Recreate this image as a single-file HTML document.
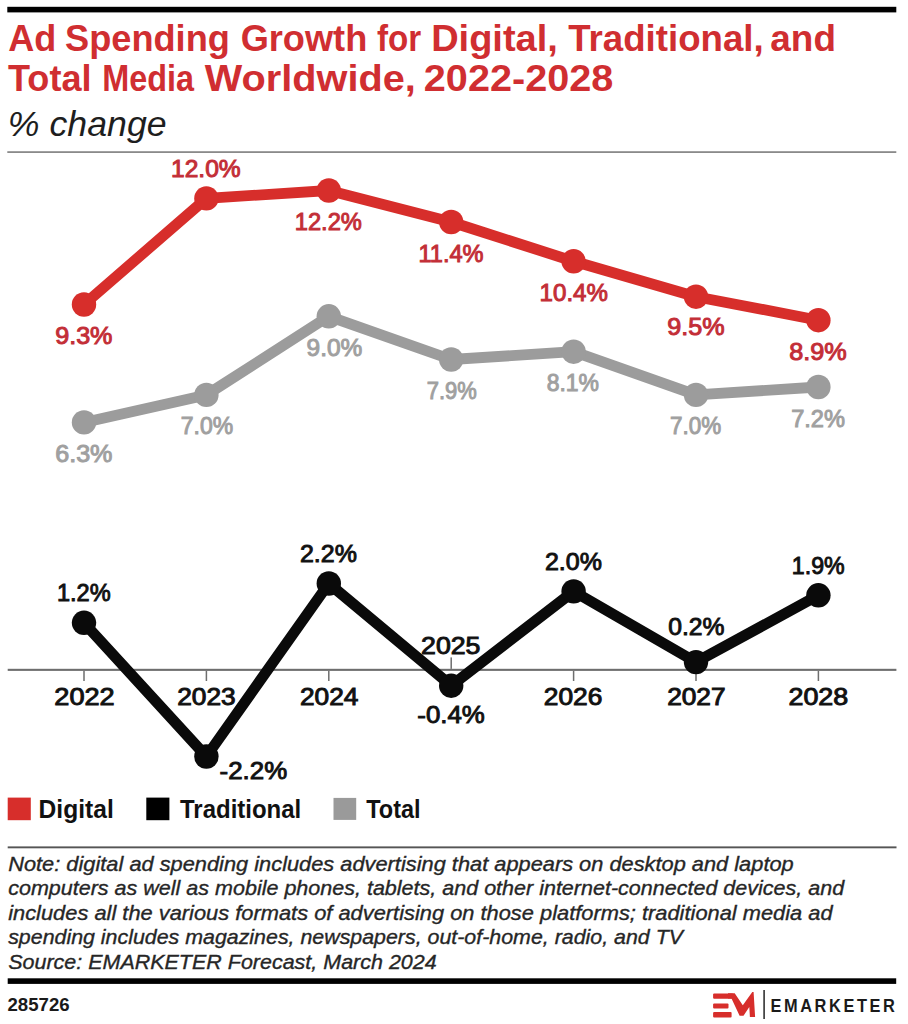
<!DOCTYPE html><html><head><meta charset="utf-8"><style>
html,body{margin:0;padding:0;background:#fff;overflow:hidden}
svg{display:block;font-family:"Liberation Sans",sans-serif;}
</style></head><body>
<svg width="908" height="1024" viewBox="0 0 908 1024">
<rect width="908" height="1024" fill="#fff"/>
<rect x="7.3" y="6.8" width="889" height="5.6" fill="#000"/>
<rect x="7.3" y="151.2" width="889" height="1.8" fill="#8a8a8a"/>
<rect x="7.7" y="668.8" width="888.7" height="2.1" fill="#6E6E6E"/>
<rect x="83.25" y="670.9" width="1.5" height="10.1" fill="#6E6E6E"/>
<rect x="205.65" y="670.9" width="1.5" height="10.1" fill="#6E6E6E"/>
<rect x="328.05" y="670.9" width="1.5" height="10.1" fill="#6E6E6E"/>
<rect x="450.45" y="657.4" width="1.5" height="11.5" fill="#6E6E6E"/>
<rect x="572.85" y="670.9" width="1.5" height="10.1" fill="#6E6E6E"/>
<rect x="695.25" y="670.9" width="1.5" height="10.1" fill="#6E6E6E"/>
<rect x="817.65" y="670.9" width="1.5" height="10.1" fill="#6E6E6E"/>
<polyline points="84.0,422.4 206.4,394.9 328.8,316.3 451.2,359.5 573.6,351.7 696.0,394.9 818.4,387.0" fill="none" stroke="#9C9C9C" stroke-width="10.8" stroke-linejoin="round" stroke-linecap="round"/>
<circle cx="84.0" cy="422.4" r="12.2" fill="#9C9C9C"/>
<circle cx="206.4" cy="394.9" r="12.2" fill="#9C9C9C"/>
<circle cx="328.8" cy="316.3" r="12.2" fill="#9C9C9C"/>
<circle cx="451.2" cy="359.5" r="12.2" fill="#9C9C9C"/>
<circle cx="573.6" cy="351.7" r="12.2" fill="#9C9C9C"/>
<circle cx="696.0" cy="394.9" r="12.2" fill="#9C9C9C"/>
<circle cx="818.4" cy="387.0" r="12.2" fill="#9C9C9C"/>
<polyline points="84.0,304.5 206.4,198.4 328.8,190.5 451.2,222.0 573.6,261.3 696.0,296.7 818.4,320.2" fill="none" stroke="#D72E2B" stroke-width="10.8" stroke-linejoin="round" stroke-linecap="round"/>
<circle cx="84.0" cy="304.5" r="12.2" fill="#D72E2B"/>
<circle cx="206.4" cy="198.4" r="12.2" fill="#D72E2B"/>
<circle cx="328.8" cy="190.5" r="12.2" fill="#D72E2B"/>
<circle cx="451.2" cy="222.0" r="12.2" fill="#D72E2B"/>
<circle cx="573.6" cy="261.3" r="12.2" fill="#D72E2B"/>
<circle cx="696.0" cy="296.7" r="12.2" fill="#D72E2B"/>
<circle cx="818.4" cy="320.2" r="12.2" fill="#D72E2B"/>
<polyline points="84.0,622.8 206.4,756.5 328.8,583.5 451.2,685.7 573.6,591.4 696.0,662.1 818.4,595.3" fill="none" stroke="#0A0A0A" stroke-width="10.8" stroke-linejoin="round" stroke-linecap="round"/>
<circle cx="84.0" cy="622.8" r="12.2" fill="#0A0A0A"/>
<circle cx="206.4" cy="756.5" r="12.2" fill="#0A0A0A"/>
<circle cx="328.8" cy="583.5" r="12.2" fill="#0A0A0A"/>
<circle cx="451.2" cy="685.7" r="12.2" fill="#0A0A0A"/>
<circle cx="573.6" cy="591.4" r="12.2" fill="#0A0A0A"/>
<circle cx="696.0" cy="662.1" r="12.2" fill="#0A0A0A"/>
<circle cx="818.4" cy="595.3" r="12.2" fill="#0A0A0A"/>
<text x="8.30" y="50.8" font-size="37.5" font-weight="bold" font-style="normal" fill="#D02E31" textLength="48.03" lengthAdjust="spacingAndGlyphs">Ad</text>
<text x="65.04" y="50.8" font-size="37.5" font-weight="bold" font-style="normal" fill="#D02E31" textLength="164.80" lengthAdjust="spacingAndGlyphs">Spending</text>
<text x="240.64" y="50.8" font-size="37.5" font-weight="bold" font-style="normal" fill="#D02E31" textLength="126.60" lengthAdjust="spacingAndGlyphs">Growth</text>
<text x="377.00" y="50.8" font-size="37.5" font-weight="bold" font-style="normal" fill="#D02E31" textLength="44.24" lengthAdjust="spacingAndGlyphs">for</text>
<text x="431.17" y="50.8" font-size="37.5" font-weight="bold" font-style="normal" fill="#D02E31" textLength="126.68" lengthAdjust="spacingAndGlyphs">Digital,</text>
<text x="568.20" y="50.8" font-size="37.5" font-weight="bold" font-style="normal" fill="#D02E31" textLength="195.56" lengthAdjust="spacingAndGlyphs">Traditional,</text>
<text x="770.32" y="50.8" font-size="37.5" font-weight="bold" font-style="normal" fill="#D02E31" textLength="65.66" lengthAdjust="spacingAndGlyphs">and</text>
<text x="8.00" y="91.2" font-size="37.5" font-weight="bold" font-style="normal" fill="#D02E31" textLength="83.53" lengthAdjust="spacingAndGlyphs">Total</text>
<text x="102.27" y="91.2" font-size="37.5" font-weight="bold" font-style="normal" fill="#D02E31" textLength="91.74" lengthAdjust="spacingAndGlyphs">Media</text>
<text x="204.80" y="91.2" font-size="37.5" font-weight="bold" font-style="normal" fill="#D02E31" textLength="211.06" lengthAdjust="spacingAndGlyphs">Worldwide,</text>
<text x="423.84" y="91.2" font-size="37.5" font-weight="bold" font-style="normal" fill="#D02E31" textLength="189.56" lengthAdjust="spacingAndGlyphs">2022-2028</text>
<text x="7.86" y="136.3" font-size="35" font-weight="normal" font-style="italic" fill="#1e1e1e" textLength="158.71" lengthAdjust="spacingAndGlyphs">% change</text>
<text x="55.17" y="343.9" font-size="24.5" font-weight="normal" font-style="normal" fill="#C32E37" textLength="57.33" lengthAdjust="spacingAndGlyphs" stroke="#C32E37" stroke-width="1.0">9.3%</text>
<text x="171.00" y="177.3" font-size="24.5" font-weight="normal" font-style="normal" fill="#C32E37" textLength="69.69" lengthAdjust="spacingAndGlyphs" stroke="#C32E37" stroke-width="1.0">12.0%</text>
<text x="294.73" y="229.8" font-size="24.5" font-weight="normal" font-style="normal" fill="#C32E37" textLength="67.12" lengthAdjust="spacingAndGlyphs" stroke="#C32E37" stroke-width="1.0">12.2%</text>
<text x="418.44" y="261.8" font-size="24.5" font-weight="normal" font-style="normal" fill="#C32E37" textLength="65.12" lengthAdjust="spacingAndGlyphs" stroke="#C32E37" stroke-width="1.0">11.4%</text>
<text x="539.62" y="300.7" font-size="24.5" font-weight="normal" font-style="normal" fill="#C32E37" textLength="68.25" lengthAdjust="spacingAndGlyphs" stroke="#C32E37" stroke-width="1.0">10.4%</text>
<text x="667.27" y="335.2" font-size="24.5" font-weight="normal" font-style="normal" fill="#C32E37" textLength="57.33" lengthAdjust="spacingAndGlyphs" stroke="#C32E37" stroke-width="1.0">9.5%</text>
<text x="789.27" y="359.6" font-size="24.5" font-weight="normal" font-style="normal" fill="#C32E37" textLength="57.54" lengthAdjust="spacingAndGlyphs" stroke="#C32E37" stroke-width="1.0">8.9%</text>
<text x="55.17" y="461.6" font-size="24.5" font-weight="normal" font-style="normal" fill="#A0A0A0" textLength="57.33" lengthAdjust="spacingAndGlyphs" stroke="#A0A0A0" stroke-width="1.0">6.3%</text>
<text x="180.76" y="433.9" font-size="24.5" font-weight="normal" font-style="normal" fill="#A0A0A0" textLength="52.37" lengthAdjust="spacingAndGlyphs" stroke="#A0A0A0" stroke-width="1.0">7.0%</text>
<text x="306.60" y="356.3" font-size="24.5" font-weight="normal" font-style="normal" fill="#A0A0A0" textLength="55.78" lengthAdjust="spacingAndGlyphs" stroke="#A0A0A0" stroke-width="1.0">9.0%</text>
<text x="426.80" y="398.5" font-size="24.5" font-weight="normal" font-style="normal" fill="#A0A0A0" textLength="50.00" lengthAdjust="spacingAndGlyphs" stroke="#A0A0A0" stroke-width="1.0">7.9%</text>
<text x="546.66" y="390.5" font-size="24.5" font-weight="normal" font-style="normal" fill="#A0A0A0" textLength="52.37" lengthAdjust="spacingAndGlyphs" stroke="#A0A0A0" stroke-width="1.0">8.1%</text>
<text x="670.08" y="433.5" font-size="24.5" font-weight="normal" font-style="normal" fill="#A0A0A0" textLength="51.13" lengthAdjust="spacingAndGlyphs" stroke="#A0A0A0" stroke-width="1.0">7.0%</text>
<text x="791.14" y="426.7" font-size="24.5" font-weight="normal" font-style="normal" fill="#A0A0A0" textLength="53.82" lengthAdjust="spacingAndGlyphs" stroke="#A0A0A0" stroke-width="1.0">7.2%</text>
<text x="56.94" y="601.3" font-size="24.5" font-weight="normal" font-style="normal" fill="#111" textLength="53.72" lengthAdjust="spacingAndGlyphs" stroke="#111" stroke-width="0.95">1.2%</text>
<text x="219.64" y="778.7" font-size="24.5" font-weight="normal" font-style="normal" fill="#111" textLength="67.58" lengthAdjust="spacingAndGlyphs" stroke="#111" stroke-width="0.95">-2.2%</text>
<text x="299.98" y="562.0" font-size="24.5" font-weight="normal" font-style="normal" fill="#111" textLength="56.92" lengthAdjust="spacingAndGlyphs" stroke="#111" stroke-width="0.95">2.2%</text>
<text x="417.35" y="722.8" font-size="24.5" font-weight="normal" font-style="normal" fill="#111" textLength="67.48" lengthAdjust="spacingAndGlyphs" stroke="#111" stroke-width="0.95">-0.4%</text>
<text x="544.98" y="569.6" font-size="24.5" font-weight="normal" font-style="normal" fill="#111" textLength="56.92" lengthAdjust="spacingAndGlyphs" stroke="#111" stroke-width="0.95">2.0%</text>
<text x="668.20" y="635.4" font-size="24.5" font-weight="normal" font-style="normal" fill="#111" textLength="56.29" lengthAdjust="spacingAndGlyphs" stroke="#111" stroke-width="0.95">0.2%</text>
<text x="791.85" y="574.1" font-size="24.5" font-weight="normal" font-style="normal" fill="#111" textLength="52.79" lengthAdjust="spacingAndGlyphs" stroke="#111" stroke-width="0.95">1.9%</text>
<text x="54.35" y="705.3000000000001" font-size="23.5" font-weight="normal" font-style="normal" fill="#111" textLength="60.29" lengthAdjust="spacingAndGlyphs" stroke="#111" stroke-width="0.95">2022</text>
<text x="177.28" y="705.1" font-size="23.5" font-weight="normal" font-style="normal" fill="#111" textLength="58.39" lengthAdjust="spacingAndGlyphs" stroke="#111" stroke-width="0.95">2023</text>
<text x="299.98" y="705.1" font-size="23.5" font-weight="normal" font-style="normal" fill="#111" textLength="58.39" lengthAdjust="spacingAndGlyphs" stroke="#111" stroke-width="0.95">2024</text>
<text x="421.07" y="653.7" font-size="23.5" font-weight="normal" font-style="normal" fill="#111" textLength="59.31" lengthAdjust="spacingAndGlyphs" stroke="#111" stroke-width="0.95">2025</text>
<text x="543.78" y="705.1" font-size="23.5" font-weight="normal" font-style="normal" fill="#111" textLength="58.50" lengthAdjust="spacingAndGlyphs" stroke="#111" stroke-width="0.95">2026</text>
<text x="667.18" y="705.1" font-size="23.5" font-weight="normal" font-style="normal" fill="#111" textLength="58.41" lengthAdjust="spacingAndGlyphs" stroke="#111" stroke-width="0.95">2027</text>
<text x="788.46" y="705.1" font-size="23.5" font-weight="normal" font-style="normal" fill="#111" textLength="59.72" lengthAdjust="spacingAndGlyphs" stroke="#111" stroke-width="0.95">2028</text>
<text x="38.62" y="818.0" font-size="25" font-weight="bold" font-style="normal" fill="#111" textLength="75.11" lengthAdjust="spacingAndGlyphs">Digital</text>
<text x="180.00" y="818.0" font-size="25" font-weight="bold" font-style="normal" fill="#111" textLength="121.21" lengthAdjust="spacingAndGlyphs">Traditional</text>
<text x="366.20" y="818.0" font-size="25" font-weight="bold" font-style="normal" fill="#111" textLength="54.39" lengthAdjust="spacingAndGlyphs">Total</text>
<text x="8.20" y="871" font-size="21" font-weight="normal" font-style="italic" fill="#262626" textLength="785.51" lengthAdjust="spacingAndGlyphs" stroke="#262626" stroke-width="0.35">Note: digital ad spending includes advertising that appears on desktop and laptop</text>
<text x="8.20" y="895" font-size="21" font-weight="normal" font-style="italic" fill="#262626" textLength="835.95" lengthAdjust="spacingAndGlyphs" stroke="#262626" stroke-width="0.35">computers as well as mobile phones, tablets, and other internet-connected devices, and</text>
<text x="8.20" y="919.8" font-size="21" font-weight="normal" font-style="italic" fill="#262626" textLength="824.43" lengthAdjust="spacingAndGlyphs" stroke="#262626" stroke-width="0.35">includes all the various formats of advertising on those platforms; traditional media ad</text>
<text x="8.20" y="944.2" font-size="21" font-weight="normal" font-style="italic" fill="#262626" textLength="674.77" lengthAdjust="spacingAndGlyphs" stroke="#262626" stroke-width="0.35">spending includes magazines, newspapers, out-of-home, radio, and TV</text>
<text x="8.20" y="969.2" font-size="21" font-weight="normal" font-style="italic" fill="#262626" textLength="428.49" lengthAdjust="spacingAndGlyphs" stroke="#262626" stroke-width="0.35">Source: EMARKETER Forecast, March 2024</text>
<text x="7.50" y="1011.0" font-size="18" font-weight="bold" font-style="normal" fill="#1a1a1a" textLength="62.11" lengthAdjust="spacingAndGlyphs">285726</text>
<g transform="translate(770.52,0) scale(0.88,1)"><text x="0" y="1012.0" font-size="18.6" font-weight="bold" font-style="normal" fill="#1a1a1a" textLength="141.22" lengthAdjust="spacing">EMARKETER</text></g>
<rect x="7.7" y="797.6" width="23.1" height="22.6" fill="#D72E2B"/>
<rect x="146.3" y="797.6" width="23.1" height="22.6" fill="#000"/>
<rect x="333.5" y="797.9" width="22.7" height="22" fill="#9A9A9A"/>
<rect x="7.7" y="846.4" width="888.8" height="1.9" fill="#555"/>
<rect x="7.7" y="978.3" width="888.5" height="5.6" fill="#000"/>
<g fill="#D72E2B">
<rect x="713.1" y="993.4" width="20" height="5.3" rx="1"/>
<rect x="713.1" y="1003.4" width="15.4" height="5.1" rx="1"/>
<rect x="713.1" y="1012.1" width="18.5" height="5.3" rx="1"/>
<polygon points="728,993.3 734.7,993.3 742.8,1005.3 752.3,991.9 753.6,991.9 755.1,1016.9 749.9,1016.9 749.3,1007 743.5,1015.8 739.6,1015.8 731.5,998.6 728,998.6"/>
</g>
<rect x="763.3" y="990" width="1.6" height="29" fill="#333"/>
</svg></body></html>
